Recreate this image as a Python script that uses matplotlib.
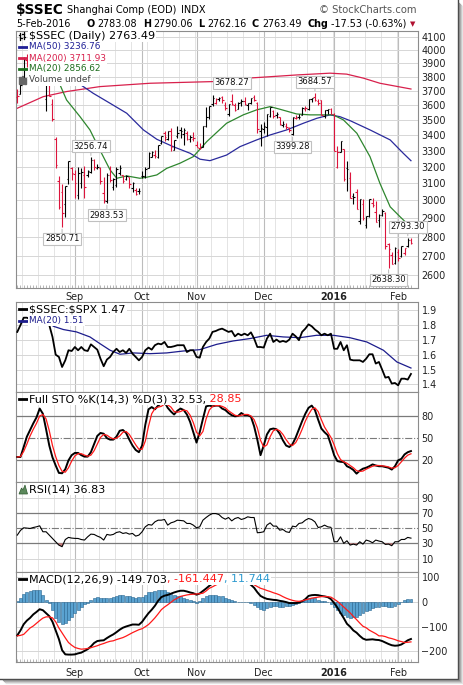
import numpy as np
import pandas as pd
import matplotlib
matplotlib.use('Agg')
import matplotlib.pyplot as plt
from matplotlib.ticker import FixedLocator, NullLocator, FuncFormatter
from matplotlib.patches import Rectangle, Polygon
from matplotlib.lines import Line2D

plt.rcParams['font.family'] = ['DejaVu Sans']
plt.rcParams['text.parse_math'] = False  # dollar signs are plain text here

# trading days on the chart (Shanghai holidays taken out)
dates = pd.bdate_range('2015-08-06', '2016-02-05')
holidays = ['2015-09-04', '2015-10-01', '2015-10-02', '2015-10-05', '2015-10-06',
            '2015-10-07', '2015-12-25', '2016-01-01']
dates = dates.drop(pd.to_datetime(holidays))

prev_close = 3694.57
opens = [3655, 3680, 3786, 3923, 3900, 3860, 3963, 3948, 3985, 3645, 3740, 3609, 3373, 3115, 3049, 2978,
         3125, 3190, 3157, 3030, 3100, 3150, 3150, 3170, 3240, 3190, 3190, 3043, 2997, 3150, 3080, 3090,
         3160, 3150, 3127, 3135, 3073, 3058, 3053, 3143, 3142, 3194, 3262, 3270, 3260, 3350, 3410, 3377,
         3424, 3306, 3391, 3435, 3408, 3413, 3377, 3377, 3338, 3317, 3325, 3459, 3522, 3610, 3617, 3640,
         3656, 3600, 3539, 3630, 3602, 3576, 3620, 3630, 3602, 3614, 3659, 3616, 3427, 3442, 3450, 3526,
         3558, 3529, 3518, 3462, 3459, 3446, 3404, 3510, 3517, 3530, 3575, 3570, 3645, 3655, 3631, 3632,
         3528, 3566, 3571, 3537, 3196, 3291, 3309, 3195, 3131, 3028, 3050, 2887, 2978, 2863, 2915, 2988,
         2937, 2890, 2920, 2928, 2762, 2701, 2664, 2721, 2698, 2716, 2752, 2783.08]
highs = [3712, 3750, 3943, 3970, 3937, 3958, 3994, 3994, 4006, 3811, 3790, 3640, 3388, 3142, 3093, 3085,
         3233, 3200, 3180, 3200, 3190, 3204, 3180, 3256.74, 3245, 3215, 3197, 3139, 3160, 3205, 3130, 3200,
         3210, 3150, 3150, 3140, 3110, 3070, 3073, 3175, 3200, 3290, 3300, 3305, 3338, 3394, 3423, 3425,
         3448, 3369, 3456, 3450, 3445, 3425, 3402, 3416, 3361, 3345, 3459, 3585, 3596, 3673, 3649, 3657,
         3662, 3620, 3607, 3678.27, 3616, 3618, 3640, 3654, 3617, 3648, 3668, 3621, 3470, 3483, 3538, 3585,
         3568, 3555, 3518, 3495, 3480, 3450, 3522, 3530, 3537, 3585, 3593, 3642, 3652, 3684.57, 3640, 3637,
         3565, 3573, 3580, 3549, 3329, 3362, 3309, 3235, 3166, 3042, 3068, 3011, 3006, 2914, 3008, 3017,
         2997, 2926, 2951, 2934, 2768, 2720, 2743, 2733, 2750, 2741, 2793.30, 2790.06]
lows = [3614, 3676, 3780, 3870, 3864, 3818, 3933, 3884, 3743, 3558, 3660, 3491, 3191, 2953, 2850.71, 2906,
        3095, 3120, 3015, 3006, 3070, 3015, 3140, 3160, 3180, 3185, 3098, 2984, 2983.53, 3105, 3062, 3080,
        3150, 3100, 3120, 3075, 3050, 3030, 3040, 3130, 3133, 3193, 3259, 3252, 3256, 3340, 3359, 3367,
        3296, 3303, 3380, 3379, 3333, 3366, 3354, 3360, 3320, 3310, 3323, 3450, 3508, 3595, 3607, 3625,
        3616, 3565, 3526, 3598, 3562, 3570, 3590, 3598, 3566, 3606, 3629, 3412, 3327, 3412, 3390, 3520,
        3513, 3510, 3465, 3450, 3442, 3420, 3399.28, 3503, 3506, 3529, 3559, 3566, 3622, 3625, 3603, 3531,
        3515, 3539, 3538, 3295, 3190, 3288, 3115, 3057, 3016, 2978, 2949, 2867, 2889, 2845, 2909, 2960,
        2880, 2851, 2911, 2736, 2638.30, 2655, 2655, 2670, 2693, 2701, 2744, 2762.16]
closes = [3661, 3744, 3928, 3927, 3886, 3955, 3965, 3994, 3748, 3794, 3664, 3508, 3210, 2965, 2927, 3084,
          3232, 3160, 3100, 3160, 3170, 3080, 3175, 3243, 3197, 3200, 3115, 3005, 3152, 3120, 3125, 3185,
          3190, 3115, 3143, 3093, 3101, 3038, 3053, 3143, 3183, 3287, 3293, 3263, 3338, 3391, 3386, 3425,
          3320, 3369, 3412, 3429, 3434, 3375, 3387, 3382, 3325, 3316, 3459, 3522, 3590, 3646, 3640, 3650,
          3632, 3580, 3606, 3604, 3568, 3617, 3630, 3610, 3616, 3647, 3635, 3436, 3445, 3456, 3537, 3584,
          3525, 3536, 3470, 3472, 3455, 3435, 3520, 3510, 3516, 3580, 3578, 3642, 3651, 3636, 3612, 3533,
          3563, 3572, 3539, 3296, 3288, 3361, 3125, 3186, 3017, 3022, 2949, 3008, 2900, 2913, 3008, 2976,
          2881, 2917, 2938, 2750, 2735, 2655, 2737, 2688, 2749, 2739, 2781, 2763.49]

# moving averages (bar index, value)
ma20_idx = [10, 12.4, 15.4, 19.6, 22.7, 25.8, 29, 31.1, 34.2, 38.3, 40.4, 43.6, 46.7, 50.8, 55, 59.2,
            65.4, 70.6, 74.8, 79, 82.1, 87.3, 91.5, 95.6, 98.7, 101.9, 106.1, 110.2, 113.3, 116.5,
            119.6, 121.7, 123]
ma20_val = [3880, 3792, 3635, 3521, 3433, 3304, 3180, 3130, 3144, 3130, 3136, 3150, 3190, 3221, 3262, 3357,
            3477, 3533, 3567, 3589, 3571, 3539, 3533, 3533, 3533, 3499, 3411, 3262, 3100, 2964,
            2908, 2872, 2856.62]
ma50_idx = [14, 19.1, 23.7, 29, 34.2, 39.4, 43.6, 48.7, 54, 57.1, 60.2, 65.4, 69.6, 74.8, 79, 84.2,
            89.4, 93.6, 97.7, 100.8, 104, 110.2, 116.5, 120.6, 123]
ma50_val = [3830, 3753, 3682, 3612, 3544, 3433, 3372, 3325, 3283, 3246, 3237, 3272, 3325, 3368, 3400, 3433,
            3477, 3510, 3533, 3521, 3494, 3433, 3368, 3283, 3236.76]
ma200_idx = [0, 8.1, 15.4, 25.8, 41.5, 61.2, 66.5, 76.9, 87.3, 97.7, 102.9, 108.1, 113.3, 123]
ma200_val = [3578, 3658, 3694, 3729, 3753, 3765, 3782, 3797, 3813, 3826, 3819, 3790, 3753, 3711.93]

# price labels on highs and lows
mark_idx = [14, 23, 28, 67, 86, 93, 116, 122]
mark_side = ['low', 'high', 'low', 'high', 'low', 'high', 'low', 'high']

ratio = [1.754, 1.80, 1.85, 1.85, 1.84, 1.86, 1.86, 1.87, 1.82, 1.84, 1.80, 1.72, 1.60, 1.585, 1.517, 1.562,
         1.63, 1.625, 1.652, 1.63, 1.652, 1.63, 1.625, 1.67, 1.652, 1.634, 1.573, 1.522, 1.567, 1.585, 1.618,
         1.64, 1.618, 1.63, 1.612, 1.64, 1.607, 1.585, 1.562, 1.585, 1.63, 1.648, 1.634, 1.664, 1.675, 1.67,
         1.686, 1.652, 1.652, 1.657, 1.664, 1.664, 1.664, 1.618, 1.63, 1.63, 1.585, 1.58, 1.652, 1.686, 1.709,
         1.754, 1.76, 1.77, 1.776, 1.765, 1.754, 1.76, 1.724, 1.742, 1.731, 1.742, 1.731, 1.751, 1.709, 1.652,
         1.652, 1.648, 1.709, 1.742, 1.686, 1.702, 1.686, 1.693, 1.686, 1.702, 1.742, 1.724, 1.698, 1.754,
         1.776, 1.805, 1.792, 1.77, 1.754, 1.731, 1.742, 1.731, 1.742, 1.64, 1.64, 1.686, 1.63, 1.664, 1.567,
         1.562, 1.562, 1.562, 1.551, 1.573, 1.603, 1.603, 1.54, 1.551, 1.499, 1.445, 1.45, 1.405, 1.409,
         1.393, 1.438, 1.438, 1.432, 1.47]
ratio_ma_idx = [8.9, 11.3, 14.4, 18.5, 22.7, 25.8, 29, 32.1, 36.3, 41.5, 46.7, 51.9, 57, 62.3, 67.5, 72.7,
                77.9, 83.1, 88.3, 93.5, 98.8, 103.9, 109.2, 114.4, 118.6, 123]
ratio_ma_val = [1.832, 1.792, 1.77, 1.754, 1.72, 1.675, 1.63, 1.603, 1.612, 1.607, 1.612, 1.625, 1.634, 1.67,
                1.693, 1.709, 1.731, 1.72, 1.715, 1.731, 1.731, 1.715, 1.686, 1.63, 1.551, 1.51]

sto_k = [24.5, 24.5, 38, 52, 61, 70, 78, 90, 83, 62, 40, 24, 13, 3, 2.5, 8, 20, 27, 30, 30, 27, 25, 25, 31,
         42, 53, 57, 56, 50, 48, 48, 52, 60, 61, 57, 48, 40, 34, 31, 40, 68, 89, 92, 89, 94, 97, 99, 91, 86,
         82, 87, 90, 88, 82, 72, 58, 44, 58, 76, 93, 94, 93, 94, 94, 90, 88, 84, 81, 79.5, 80, 84, 81, 81,
         79, 66, 48, 27, 40, 55, 62, 63, 62, 56, 47, 40, 38, 42, 51, 62, 73, 83, 91, 94, 88, 75, 63, 58, 54,
         41, 27, 19, 18, 17.7, 12, 10, 7, 2, 6, 8.7, 10, 12, 14.5, 13, 12, 12, 11, 10, 7.5, 12, 20, 22, 28,
         31, 32.53]
sto_d = [24.5, 25, 32, 42, 53, 62, 70, 80, 82, 76, 60, 40, 25, 13, 5, 4, 10, 19, 26, 29, 29, 27, 25.5, 27,
         33, 42, 51, 55, 54, 51, 49, 50, 53, 58, 59, 55, 48, 41, 35, 35, 46, 66, 83, 90, 92, 93, 96, 95, 92,
         86, 85, 86, 88, 87, 81, 71, 58, 53, 59, 76, 88, 93, 94, 94, 93, 91, 87, 84, 81, 80, 81, 82, 82,
         80, 75, 64, 47, 38, 41, 52, 60, 62, 60, 55, 48, 42, 40, 44, 52, 62, 73, 82, 89, 91, 86, 75, 65,
         58, 51, 41, 29, 21, 18, 16, 13, 10, 6, 5, 5.5, 8, 10, 12, 13, 13, 12.5, 12, 11, 9.5, 10, 13, 18,
         23, 27, 28.85]

rsi = [40.8, 47, 50.4, 50, 49.5, 50.8, 51.7, 53, 45.2, 45.2, 40.8, 36.4, 32, 27.7, 25.6, 35, 37.8, 36.9,
       36.5, 36.4, 35, 34.3, 38.6, 42.1, 41.7, 39.5, 37.8, 34.3, 41.7, 40.8, 41.7, 44.3, 45.2, 43, 43.9,
       42.1, 43, 39.5, 40.8, 45.2, 51.7, 54.7, 53.9, 58.2, 60.4, 60.4, 61.3, 53.9, 56.9, 58.2, 60.4, 60,
       59.5, 56.1, 56.1, 53.9, 50.4, 51.7, 60.4, 63.9, 67, 69.1, 69.1, 67.8, 63.9, 61.7, 63.9, 59.5, 62.6,
       63.9, 61.3, 62.6, 64.8, 63.9, 63.9, 43.9, 44.3, 45.2, 53.9, 56.9, 52.6, 52.6, 47.3, 48.2, 45.2, 44.3,
       52.6, 51.7, 56.1, 56.9, 60.4, 62.6, 61.3, 58.2, 50.8, 51.7, 53.9, 51.7, 51, 32.1, 32.1, 38.6, 29.9,
       33.4, 27.7, 29, 27.7, 32.1, 29, 34.3, 33, 30.8, 34.3, 33, 32.1, 28.6, 29, 26.9, 32.1, 32.1, 35.1,
       35.1, 37.8, 36.83]

macd = [-135, -115, -90, -75, -64, -50, -40, -29, -33, -45, -57, -80, -115, -150, -195, -212, -213, -213,
        -212, -208, -205, -198, -191, -180, -166, -158, -156, -155, -146, -138, -131, -122, -112, -104, -99,
        -95, -91, -91, -92, -80, -62, -45, -31, -15, 5, 20, 26, 29, 34, 39, 43, 46, 46, 43, 39, 36, 30, 35,
        45, 55, 66, 76, 88, 98, 105, 110, 112, 110, 106, 101, 95, 88, 80, 70, 58, 40, 25, 18, 13, 11, 9, 8,
        5, 3, 0, -4, -4, -4, -2, 3, 12, 25, 28, 29, 28, 25, 23, 20, 12, -4, -22, -44, -65, -88, -100, -115,
        -124, -137, -148, -153, -152, -151, -153, -154, -158, -164, -170, -175, -177, -176, -172, -164,
        -155, -149.703]
signal = [-137, -135, -131, -118, -105, -97, -86, -75, -65, -60, -60, -64, -80, -105, -125, -145, -164, -175,
          -184, -188, -191, -190, -188, -185, -181, -177, -172, -168, -163, -159, -157, -152, -148, -144,
          -138, -131, -124, -118, -112, -108, -100, -91, -78, -64, -48, -31, -20, -11, -1, 9, 16, 23, 26, 29,
          31, 32, 33, 34, 36, 45, 56, 62, 69, 75, 82, 90, 96, 100, 103, 104, 100, 94, 86, 76, 70, 63, 56, 52,
          47, 43, 38, 34, 29, 22, 16, 11, 7, 4, 3, 5, 9, 12, 16, 18, 20, 22, 23, 22, 20, 12, 3, -8, -20, -32,
          -44, -58, -71, -85, -98, -104, -114, -121, -128, -137, -137, -140, -145, -148, -152, -157, -160,
          -164, -163, -161.447]
hist = [3, 18, 33, 40, 45, 47, 49, 47, 30, 10, -4, -31, -64, -81, -87, -84, -73, -60, -44, -33, -20, -9, -2,
        8, 16, 20, 17, 15, 16, 17, 20, 25, 28, 28, 25, 23, 20, 17, 20, 22, 29, 39, 41, 44, 47, 49, 47, 39, 33,
        29, 25, 23, 18, 13, 8, 3, -3, 5, 15, 23, 28, 29, 28, 25, 23, 17, 12, 7, 3, 1, 0, -1, -1, -3, -10, -18,
        -28, -31, -25, -20, -17, -17, -20, -20, -17, -15, -12, -9, -3, 3, 10, 16, 17, 16, 10, 6, 3, 0, -6,
        -18, -33, -44, -52, -59, -63, -62, -59, -52, -44, -37, -31, -25, -21, -18, -15, -17, -20, -21, -16,
        -8, 0, 8, 11, 11.744]

W, H = 464, 685
RED = '#dc143c'


def fx(x):
    return x / W


def fy(y):
    return 1 - y / H


n = len(closes)
idx = np.arange(n)
month_idx = [i for i in range(1, n) if dates[i].month != dates[i - 1].month]
week_idx = [i - 0.5 for i in range(1, n) if dates[i].weekday() < dates[i - 1].weekday()]
month_lbl = [str(dates[i].year) if dates[i].month == 1 else dates[i].strftime('%b') for i in month_idx]

fig = plt.figure(figsize=(W / 100, H / 100), dpi=100)
fig.patch.set_facecolor('white')


def panel(top, bottom):
    ax = fig.add_axes([fx(16), fy(bottom), (418 - 16) / W, (bottom - top) / H])
    for s in ax.spines.values():
        s.set_color('#8c8c8c')
        s.set_linewidth(0.8)
    ax.set_xlim(-0.4, 125.2)
    ax.yaxis.tick_right()
    ax.tick_params(axis='y', length=0, pad=2.5, labelsize=6.9, labelcolor='#222222')
    ax.tick_params(axis='x', which='major', length=0, labelsize=6.9, labelcolor='#222222')
    ax.set_xticks(month_idx)
    ax.xaxis.set_minor_locator(FixedLocator(idx))
    ax.tick_params(axis='x', which='minor', direction='in', length=0)
    for w in week_idx:
        ax.axvline(w, color='#e4e4e4', lw=0.7, zorder=0)
    for m in month_idx:
        ax.axvline(m, color='#bcbcbc', lw=0.8, zorder=0)
    ax.yaxis.grid(True, color='#d6d6d6', lw=0.7)
    ax.set_axisbelow(True)
    return ax


# ---------------- price panel ----------------
ax = panel(31, 288)
ax.set_yscale('log')
ax.set_ylim(2538, 4147)
pticks = list(range(2600, 4101, 100))
ax.yaxis.set_major_locator(FixedLocator(pticks))
ax.yaxis.set_major_formatter(FuncFormatter(lambda v, p: f'{v:.0f}'))
ax.yaxis.set_minor_locator(NullLocator())
ax.set_xticklabels(month_lbl)
ax.tick_params(axis='x', pad=3.2)
ax.tick_params(axis='x', which='minor', length=2, color='#999999', width=0.5)
for t in ax.get_xticklabels():
    if t.get_text() == '2016':
        t.set_fontweight('bold')

c_arr = np.array(closes)
prev = np.r_[prev_close, c_arr[:-1]]
cols = np.where(c_arr < prev, RED, 'black')
ax.vlines(idx, lows, highs, colors=cols, lw=0.8, zorder=3)
ax.hlines(opens, idx - 0.45, idx, colors=cols, lw=0.8, zorder=3)
ax.hlines(closes, idx, idx + 0.45, colors=cols, lw=0.8, zorder=3)

ax.plot(ma200_idx, ma200_val, color='#d8204c', lw=0.9, zorder=2)
ax.plot(ma50_idx, ma50_val, color='#2a2a9c', lw=0.9, zorder=2)
ax.plot(ma20_idx, ma20_val, color='#2e862e', lw=0.9, zorder=2)

for i, side in zip(mark_idx, mark_side):
    v = highs[i] if side == 'high' else lows[i]
    off = 8 if side == 'high' else -8.5
    ax.annotate(f'{v:.2f}', xy=(i, v), xytext=(0, off), textcoords='offset points',
                ha='center', va='center', fontsize=6, color='#111111', zorder=6,
                annotation_clip=False,
                bbox=dict(boxstyle='square,pad=0.18', fc='white', ec='#c0c0c0', lw=0.8),
                arrowprops=dict(arrowstyle='-', color='#c0c0c0', lw=0.8, shrinkA=0, shrinkB=1.5))

# ---------------- ratio panel ----------------
ax2 = panel(302, 392)
ax2.set_ylim(1.348, 1.956)
ax2.set_yticks([1.4, 1.5, 1.6, 1.7, 1.8, 1.9])
ax2.yaxis.set_major_formatter(FuncFormatter(lambda v, p: f'{v:.1f}'))
ax2.tick_params(axis='x', labelbottom=False)
ax2.plot(ratio_ma_idx, ratio_ma_val, color='#1c1c8c', lw=0.9, zorder=2)
ax2.plot(idx, ratio, color='black', lw=1.3, zorder=3)

# ---------------- stochastics ----------------
ax3 = panel(392, 482)
ax3.set_ylim(-9.3, 112.4)
ax3.set_yticks([20, 50, 80])
ax3.yaxis.grid(False)
ax3.tick_params(axis='x', labelbottom=False)
ax3.axhline(80, color='#7a7a7a', lw=0.9, zorder=1)
ax3.axhline(20, color='#7a7a7a', lw=0.9, zorder=1)
ax3.axhline(50, color='#7a7a7a', lw=0.8, ls='-.', zorder=1)
ax3.plot(idx, sto_k, color='black', lw=1.4, zorder=3)
ax3.plot(idx, sto_d, color='#ff1a1a', lw=0.9, zorder=4)

# ---------------- RSI ----------------
ax4 = panel(482, 572)
ax4.set_ylim(-7.6, 110.5)
ax4.set_yticks([10, 30, 50, 70, 90])
ax4.yaxis.grid(False)
ax4.tick_params(axis='x', labelbottom=False)
for lv in (10, 90):
    ax4.axhline(lv, color='#d6d6d6', lw=0.7, zorder=0)
ax4.axhline(70, color='#7a7a7a', lw=0.9, zorder=1)
ax4.axhline(30, color='#7a7a7a', lw=0.9, zorder=1)
ax4.axhline(50, color='#7a7a7a', lw=0.8, ls='-.', zorder=1)
r = np.array(rsi)
ax4.fill_between(idx, r, 30, where=r < 30, interpolate=True, color='#c97b7b', lw=0, zorder=2)
ax4.plot(idx, rsi, color='black', lw=0.8, zorder=3)

# ---------------- MACD ----------------
ax5 = panel(572, 662)
ax5.set_ylim(-243, 122)
ax5.set_yticks([-200, -100, 0, 100])
ax5.set_xticklabels(month_lbl)
ax5.tick_params(axis='x', pad=4)
ax5.tick_params(axis='x', which='minor', length=2, color='#999999', width=0.5)
for t in ax5.get_xticklabels():
    if t.get_text() == '2016':
        t.set_fontweight('bold')
ax5.bar(idx, hist, width=0.9, color='#5aa2d0', edgecolor='#27658f', lw=0.4, zorder=2)
ax5.plot(idx, macd, color='black', lw=1.4, zorder=3)
ax5.plot(idx, signal, color='#ff1a1a', lw=0.9, zorder=4)

# ---------------- legends / header ----------------
renderer = fig.canvas.get_renderer()
white = dict(facecolor='white', edgecolor='none', pad=0.8)


def chain(x, y, parts, size, weight='normal', bg=True):
    for s, c in parts:
        t = fig.text(fx(x), fy(y), s, color=c, fontsize=size, fontweight=weight,
                     ha='left', va='center', bbox=white if bg else None)
        x = t.get_window_extent(renderer).x1
    return x


def dash(y, c):
    fig.add_artist(Line2D([fx(19), fx(27)], [fy(y), fy(y)], color=c, lw=2.0,
                          transform=fig.transFigure))


LEG = 8.0
MAF = 6.4

# price legend
chain(29, 36, [('$SSEC (Daily) 2763.49', 'black')], LEG)
for xx, y0, y1 in ((20, 33, 40), (24, 32, 39)):
    fig.add_artist(Line2D([fx(xx), fx(xx)], [fy(y0), fy(y1)], color='black', lw=0.9,
                          transform=fig.transFigure))
    fig.add_artist(Line2D([fx(xx - 1.5), fx(xx)], [fy(y0 + 2), fy(y0 + 2)], color='black', lw=0.9,
                          transform=fig.transFigure))
    fig.add_artist(Line2D([fx(xx), fx(xx + 1.5)], [fy(y1 - 2), fy(y1 - 2)], color='black', lw=0.9,
                          transform=fig.transFigure))
for y, s, c in ((47, 'MA(50) 3236.76', '#1f1f96'), (58, 'MA(200) 3711.93', '#d8204c'),
                (69, 'MA(20) 2856.62', '#1e6e1e')):
    dash(y, c)
    chain(29, y, [(s, c)], MAF)
chain(29, 80, [('Volume undef', '#444444')], MAF)
for xx, top in ((19, 77), (21.5, 75.5), (24, 78)):
    fig.add_artist(Rectangle((fx(xx), fy(84)), 1.6 / W, (84 - top) / H, color='#666666',
                             transform=fig.transFigure))

# ratio legend
dash(309.3, 'black')
chain(29, 309.3, [('$SSEC:$SPX 1.47', 'black')], LEG)
dash(320.7, '#1c1c8c')
chain(29, 320.7, [('MA(20) 1.51', '#1c1c8c')], MAF)

# stochastics legend
dash(399.3, 'black')
chain(29, 399.3, [('Full STO %K(14,3) %D(3) 32.53,', 'black'), (' 28.85', '#ff1a1a')], LEG)

# RSI legend
fig.add_artist(Polygon([(fx(19), fy(494)), (fx(21.5), fy(488)), (fx(23), fy(490)),
                        (fx(25), fy(485)), (fx(27.5), fy(494))], closed=True,
                       fc='#5d8a5d', ec='#2f5a2f', lw=0.5, transform=fig.transFigure))
chain(29, 489.3, [('RSI(14) 36.83', 'black')], LEG)

# MACD legend
dash(579.3, 'black')
chain(29, 579.3, [('MACD(12,26,9) -149.703', 'black'), (', -161.447', '#ff1a1a'),
                  (', 11.744', '#2f9bd0')], LEG)

# header
x_end = chain(16, 10, [('$SSEC', 'black')], 9.8, weight='bold', bg=False)
x_end = chain(x_end + 3, 10, [('Shanghai Comp (EOD)', 'black')], 7.0, bg=False)
chain(x_end + 5, 10, [('INDX', 'black')], 7.0, bg=False)
fig.text(fx(417), fy(10), '\u00a9 StockCharts.com', fontsize=7.2, color='#555555', va='center', ha='right')
fig.text(fx(16), fy(24), '5-Feb-2016', fontsize=6.9, va='center', ha='left')
for xx, s, w in ((87, 'O', 'bold'), (97, '2783.08', 'normal'), (143, 'H', 'bold'), (153, '2790.06', 'normal'),
                 (198, 'L', 'bold'), (207, '2762.16', 'normal'), (252, 'C', 'bold'), (262, '2763.49', 'normal'),
                 (308, 'Chg', 'bold'), (331, '-17.53 (-0.63%)', 'normal')):
    fig.text(fx(xx), fy(24), s, fontsize=6.9, fontweight=w, va='center', ha='left')
fig.text(fx(413), fy(24.5), '\u25bc', fontsize=5, color='#b01030', va='center', ha='center')

# frame edge with shadow at right and bottom
fig.add_artist(Line2D([fx(458), fx(458)], [fy(0), fy(679)], color='#454545', lw=1.0,
                      transform=fig.transFigure))
fig.add_artist(Line2D([fx(0), fx(458)], [fy(679), fy(679)], color='#454545', lw=1.0,
                      transform=fig.transFigure))
for k, c in enumerate(['#8a8a8a', '#a9a9a9', '#c7c7c7', '#e3e3e3']):
    fig.add_artist(Line2D([fx(459 + k), fx(459 + k)], [fy(3 + k), fy(680 + k)], color=c, lw=0.9,
                          transform=fig.transFigure))
    fig.add_artist(Line2D([fx(3 + k), fx(459 + k)], [fy(680 + k), fy(680 + k)], color=c, lw=0.9,
                          transform=fig.transFigure))

fig.savefig('out.png', dpi=100, facecolor='white')
